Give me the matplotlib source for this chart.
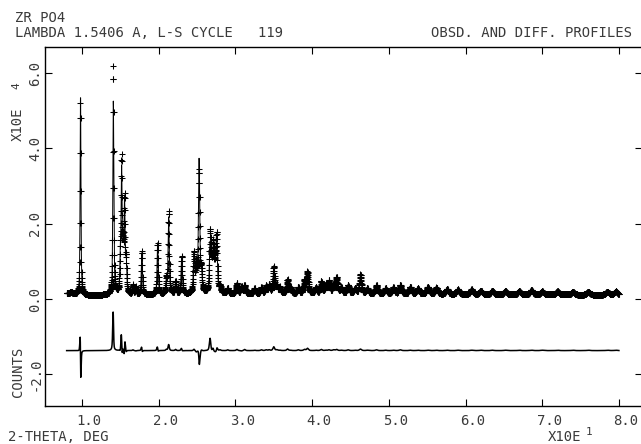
import numpy as np
import matplotlib
matplotlib.use("Agg")
import matplotlib.pyplot as plt
from matplotlib import transforms

# ---------------- data (2-theta in units of 10 deg, counts in units of 1e4) -------------
scan_start = 0.80
scan_end = 8.00
scan_step = 0.002

# background knots
bg_x = [0.80, 0.86, 0.92, 1.00, 1.20, 1.60, 2.00, 2.40, 2.80, 3.20, 3.60, 4.00,
        4.50, 5.00, 5.50, 6.00, 6.50, 7.00, 7.50, 8.00]
bg_y = [0.15, 0.17, 0.12, 0.10, 0.10, 0.11, 0.12, 0.13, 0.14, 0.14, 0.14, 0.14,
        0.14, 0.14, 0.13, 0.13, 0.12, 0.12, 0.11, 0.11]

# reflections: position, observed peak top, calculated peak top, calc position shift
peak_pos = [0.980, 1.408, 1.500, 1.516, 1.536, 1.556, 1.576, 1.664, 1.700, 1.780,
            1.986, 2.100, 2.130, 2.220, 2.300, 2.460, 2.490, 2.526, 2.556, 2.670,
            2.690, 2.712, 2.736, 2.756, 2.800, 2.900, 3.020, 3.080, 3.120, 3.250,
            3.340, 3.400, 3.440, 3.500, 3.540, 3.580, 3.680, 3.720, 3.820, 3.900,
            3.940, 4.050, 4.120, 4.180, 4.220, 4.280, 4.320, 4.380, 4.470, 4.560,
            4.630, 4.720, 4.840, 4.960, 5.060, 5.150, 5.280, 5.380, 5.510, 5.620,
            5.760, 5.900, 6.080, 6.200, 6.350, 6.520, 6.700, 6.860, 7.000, 7.200,
            7.400, 7.600, 7.850, 7.960]
obs_top = [5.20, 6.17, 1.00, 3.56, 1.25, 2.55, 0.90, 0.35, 0.30, 1.27,
           1.48, 0.50, 2.31, 0.45, 1.12, 1.18, 0.85, 3.35, 0.70, 1.68,
           0.70, 1.32, 0.75, 1.60, 0.30, 0.28, 0.42, 0.32, 0.36, 0.28,
           0.30, 0.34, 0.36, 0.84, 0.35, 0.30, 0.50, 0.30, 0.30, 0.48,
           0.70, 0.30, 0.46, 0.36, 0.46, 0.36, 0.55, 0.30, 0.36, 0.28,
           0.64, 0.28, 0.36, 0.28, 0.30, 0.37, 0.32, 0.28, 0.32, 0.30,
           0.26, 0.25, 0.25, 0.22, 0.22, 0.21, 0.21, 0.23, 0.20, 0.20,
           0.19, 0.19, 0.19, 0.20]
calc_top = [5.45, 5.25, 1.05, 3.29, 1.20, 2.45, 0.95, 0.33, 0.31, 1.22,
            1.42, 0.47, 2.15, 0.42, 1.08, 1.14, 0.88, 3.65, 0.66, 1.35,
            0.73, 1.28, 0.78, 1.55, 0.28, 0.26, 0.39, 0.33, 0.33, 0.27,
            0.28, 0.32, 0.34, 0.74, 0.33, 0.29, 0.46, 0.29, 0.28, 0.45,
            0.64, 0.29, 0.43, 0.35, 0.44, 0.34, 0.52, 0.29, 0.34, 0.27,
            0.60, 0.27, 0.34, 0.27, 0.29, 0.35, 0.31, 0.27, 0.31, 0.29,
            0.25, 0.24, 0.24, 0.21, 0.21, 0.20, 0.20, 0.22, 0.19, 0.19,
            0.18, 0.18, 0.18, 0.19]
calc_shift = [0.0010, 0.0005, 0.0, 0.0008, 0.0, -0.0008, 0.0, 0.0, 0.0, 0.0006,
              0.0005, 0.0, 0.0, 0.0, 0.0004, 0.0, 0.0, 0.0006, 0.0, 0.0,
              0.0, 0.0004, 0.0, -0.0004] + [0.0] * 50
diff_offset = -1.37

x_ticks = [1, 2, 3, 4, 5, 6, 7, 8]
x_tick_labels = ["1.0", "2.0", "3.0", "4.0", "5.0", "6.0", "7.0", "8.0"]
y_ticks = [-2, 0, 2, 4, 6]
y_tick_labels = ["-2.0", "0.0", "2.0", "4.0", "6.0"]

# ---------------- profiles --------------------------------------------------------
tt = np.round(np.arange(scan_start, scan_end + scan_step / 2, scan_step), 4)
bg = np.interp(tt, bg_x, bg_y)
eta = 0.6


def profile(tops, shifts):
    y = bg.copy()
    for p, h, s in zip(peak_pos, tops, shifts):
        fwhm = 0.008 + 0.005 * p
        amp = h - np.interp(p, bg_x, bg_y)
        d = (tt - p - s) / (fwhm / 2)
        y += amp * (eta / (1 + d ** 2) + (1 - eta) * np.exp(-np.log(2) * d ** 2))
    return y


obs = profile(obs_top, [0.0] * len(peak_pos))
calc = profile(calc_top, calc_shift)
diff = obs - calc + diff_offset

# ---------------- figure ----------------------------------------------------------
W, H = 641, 444
fig = plt.figure(figsize=(W / 100, H / 100), dpi=100)
fig.patch.set_facecolor("white")
FONT = "DejaVu Sans Mono"
TXT = "#3a3a3a"
FS = 10

L, R, T, B = 45, 642, 47, 405.5
ax = fig.add_axes([L / W, 1 - B / H, (R - L) / W, (B - T) / H])
x0 = 1 + (L - 82) / 76.7
x1 = 1 + (R - 82) / 76.7
y0 = (299 - B) / 37.67
y1 = (299 - T) / 37.67
ax.set_xlim(x0, x1)
ax.set_ylim(y0, y1)

ax.plot(tt, obs, linestyle="none", marker="+", markersize=4.8,
        markeredgewidth=0.75, color="black")
ax.plot(tt, calc, color="black", linewidth=0.7)
ax.plot(tt, diff, color="black", linewidth=1.1)

for s in ax.spines.values():
    s.set_linewidth(1.0)
    s.set_color("black")

ax.set_xticks(x_ticks)
ax.set_xticklabels(x_tick_labels, fontfamily=FONT, fontsize=FS, color=TXT)
ax.set_yticks(y_ticks)
ax.set_yticklabels(y_tick_labels, fontfamily=FONT, fontsize=FS, color=TXT,
                   rotation=90, va="center")
ax.tick_params(direction="in", length=5, width=0.8, top=True, right=True,
               color="black")
ax.tick_params(axis="x", pad=6)
ax.tick_params(axis="y", pad=2)
off = transforms.ScaledTranslation(7 / 100, 0, fig.dpi_scale_trans)
for lab in ax.get_xticklabels():
    lab.set_transform(lab.get_transform() + off)


def ftext(px, py, s, **kw):
    kw.setdefault("fontfamily", FONT)
    kw.setdefault("fontsize", FS)
    kw.setdefault("color", TXT)
    fig.text(px / W, 1 - py / H, s, **kw)


ftext(15, 18, "ZR PO4", ha="left", va="center")
ftext(15, 33, "LAMBDA 1.5406 A, L-S CYCLE   119", ha="left", va="center")
ftext(632, 33, "OBSD. AND DIFF. PROFILES", ha="right", va="center")
ftext(8, 437, "2-THETA, DEG", ha="left", va="center")
ftext(548, 437, "X10E", ha="left", va="center")
ftext(586, 432, "1", ha="left", va="center", fontsize=8)
ftext(18, 372, "COUNTS", ha="center", va="center", rotation=90)
ftext(18, 124, "X10E", ha="center", va="center", rotation=90)
ftext(16, 86, "4", ha="center", va="center", rotation=90, fontsize=8)

fig.savefig("out.png", dpi=100, facecolor="white")
